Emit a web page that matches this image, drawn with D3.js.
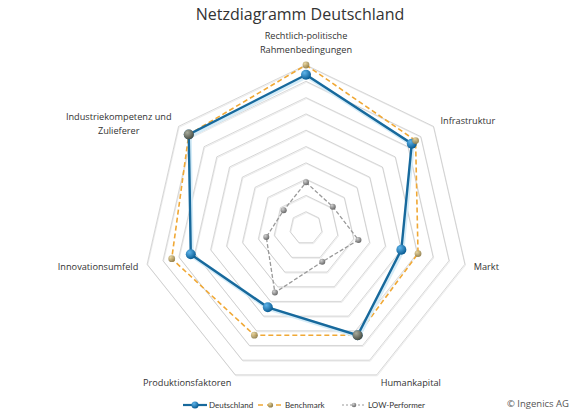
<!DOCTYPE html>
<html>
<head>
<meta charset="utf-8">
<script src="https://cdn.jsdelivr.net/npm/d3@7"></script>
<style>
  body { margin: 0; background: #fff; }
  svg { font-family: "Open Sans", sans-serif; }
</style>
</head>
<body>
<div id="chart"></div>
<script>
// axis labels, clockwise from the top
const axisLabels = [
  ["Rechtlich-politische", "Rahmenbedingungen"],
  ["Infrastruktur"],
  ["Markt"],
  ["Humankapital"],
  ["Produktionsfaktoren"],
  ["Innovationsumfeld"],
  ["Industriekompetenz und", "Zulieferer"]
]
const deutschland  = [9.4, 8.3, 6.0, 7.3, 5.4, 7.25, 9.2]
const benchmark    = [10, 8.6, 7.05, 7.3, 7.3, 8.45, 9.2]
const lowPerformer = [2.8, 2.1, 3.3, 2.3, 4.4, 2.5, 1.75]
const ringLevels = d3.range(1, 11)
const seriesNames = ["Deutschland", "Benchmark", "LOW-Performer"]

const width = 580, height = 417
const cx = 306, cy = 228, R = 163

const svg = d3.select("#chart").append("svg")
  .attr("width", width).attr("height", height)

const defs = svg.append("defs")
function sphere(id, light, dark) {
  const g = defs.append("radialGradient").attr("id", id)
    .attr("cx", "35%").attr("cy", "30%").attr("r", "70%")
  g.append("stop").attr("offset", "0%").attr("stop-color", light)
  g.append("stop").attr("offset", "100%").attr("stop-color", dark)
}
sphere("gBlue", "#5fb4ea", "#0a5d94")
sphere("gTan", "#e8d49a", "#8d7a45")
sphere("gGrey", "#d0d0d0", "#6a6a6a")
sphere("gDark", "#a8ab9c", "#4a4f45")

const rScale = d3.scaleLinear().domain([0, 10]).range([0, R])
const angle = d3.scaleLinear().domain([0, axisLabels.length]).range([0, 2 * Math.PI])

const radial = d3.lineRadial()
  .angle((d, i) => angle(i))
  .radius(d => rScale(d))
  .curve(d3.curveLinearClosed)

const plot = svg.append("g").attr("transform", `translate(${cx},${cy})`)

// rings
const ringData = ringLevels.map(v => axisLabels.map(() => v))
plot.selectAll(".ring-shadow").data(ringData).join("path")
  .attr("d", radial)
  .attr("transform", "translate(0.6,1)")
  .attr("fill", "none").attr("stroke", "#ececec").attr("stroke-width", 1)
plot.selectAll(".ring").data(ringData).join("path")
  .attr("d", radial)
  .attr("fill", "none").attr("stroke", "#bcbcbc").attr("stroke-width", 0.6)

// LOW-Performer
plot.append("path").datum(lowPerformer)
  .attr("d", radial).attr("fill", "none")
  .attr("stroke", "#999").attr("stroke-width", 1.3)
  .attr("stroke-dasharray", "4,2")

// Benchmark
plot.append("path").datum(benchmark)
  .attr("d", radial).attr("fill", "none")
  .attr("stroke", "#f0a835").attr("stroke-width", 1.6)
  .attr("stroke-dasharray", "5,3")

// Deutschland with soft glow
plot.append("path").datum(deutschland)
  .attr("d", radial).attr("fill", "none")
  .attr("transform", "translate(1,1.5)")
  .attr("stroke", "#d5ecf8").attr("stroke-width", 4)
plot.append("path").datum(deutschland)
  .attr("d", radial).attr("fill", "none")
  .attr("stroke", "#17699c").attr("stroke-width", 2.4)

function markers(data, r, fill, opacity) {
  plot.append("g").selectAll("circle").data(data).join("circle")
    .attr("cx", (d, i) => d3.pointRadial(angle(i), rScale(d))[0])
    .attr("cy", (d, i) => d3.pointRadial(angle(i), rScale(d))[1])
    .attr("r", r).attr("fill", fill).attr("opacity", opacity)
}
markers(lowPerformer, 3, "url(#gGrey)", 1)
markers(deutschland, 5, "url(#gBlue)", 1)
markers(benchmark, 3.4, "url(#gTan)", 0.9)
// where Benchmark lies on Deutschland the marker shows dark grey
plot.append("g").selectAll("circle")
  .data(benchmark.map((d, i) => [d, i]).filter(([d, i]) => Math.abs(d - deutschland[i]) < 0.1))
  .join("circle")
  .attr("cx", ([d, i]) => d3.pointRadial(angle(i), rScale(d))[0])
  .attr("cy", ([d, i]) => d3.pointRadial(angle(i), rScale(d))[1])
  .attr("r", 5).attr("fill", "url(#gDark)")

// axis labels
const lineH = 14
axisLabels.forEach((lines, i) => {
  const a = angle(i)
  const [px, py] = d3.pointRadial(a, R + 9)
  const s = Math.sin(a)
  const t = plot.append("text")
    .attr("font-size", 9.2).attr("fill", "#333").attr("text-anchor", "middle")
  lines.forEach((l, j) => t.append("tspan").attr("x", 0).attr("dy", j ? lineH : 0).text(l))
  const w = d3.max(t.selectAll("tspan").nodes(), n => n.getComputedTextLength())
  let x = px, y
  if (Math.abs(s) < 0.1) { x = px; y = py - (lines.length - 1) * lineH - 3 }
  else { x = s > 0 ? px + w / 2 : px - w / 2; y = py + 3.5 - (lines.length - 1) * lineH / 2 + (lines.length > 1 ? 2.5 : 0) }
  t.attr("transform", `translate(${x},${y})`)
})

// title
svg.append("text").attr("x", 300).attr("y", 20)
  .attr("text-anchor", "middle").attr("font-size", 16).attr("fill", "#333")
  .text("Netzdiagramm Deutschland")

// legend, centred under the chart
const legend = svg.append("g").attr("font-size", 8).attr("fill", "#333")
  .attr("font-family", "Lato, sans-serif")
const legendStyle = [
  { x0: 183, x1: 207, stroke: "#17699c", w: 2.2, dash: null, fill: "url(#gBlue)", r: 3.5 },
  { x0: 258, x1: 283, stroke: "#f0a835", w: 1.3, dash: "5,4", fill: "url(#gTan)", r: 2.6 },
  { x0: 342, x1: 366, stroke: "#999", w: 1.1, dash: "2,2", fill: "url(#gGrey)", r: 2.3 }
]
seriesNames.forEach((name, i) => {
  const st = legendStyle[i]
  const g = legend.append("g").attr("transform", `translate(0,405)`)
  g.append("line").attr("x1", st.x0).attr("x2", st.x1).attr("y1", 0).attr("y2", 0)
    .attr("stroke", st.stroke).attr("stroke-width", st.w).attr("stroke-dasharray", st.dash)
  g.append("circle").attr("cx", (st.x0 + st.x1) / 2).attr("r", st.r).attr("fill", st.fill)
  g.append("text").attr("x", st.x1 + 2).attr("y", 2.8).text(name)
})

svg.append("text").attr("x", 569).attr("y", 407)
  .attr("text-anchor", "end").attr("font-size", 9.5).attr("fill", "#555")
  .text("© Ingenics AG")
</script>
</body>
</html>
